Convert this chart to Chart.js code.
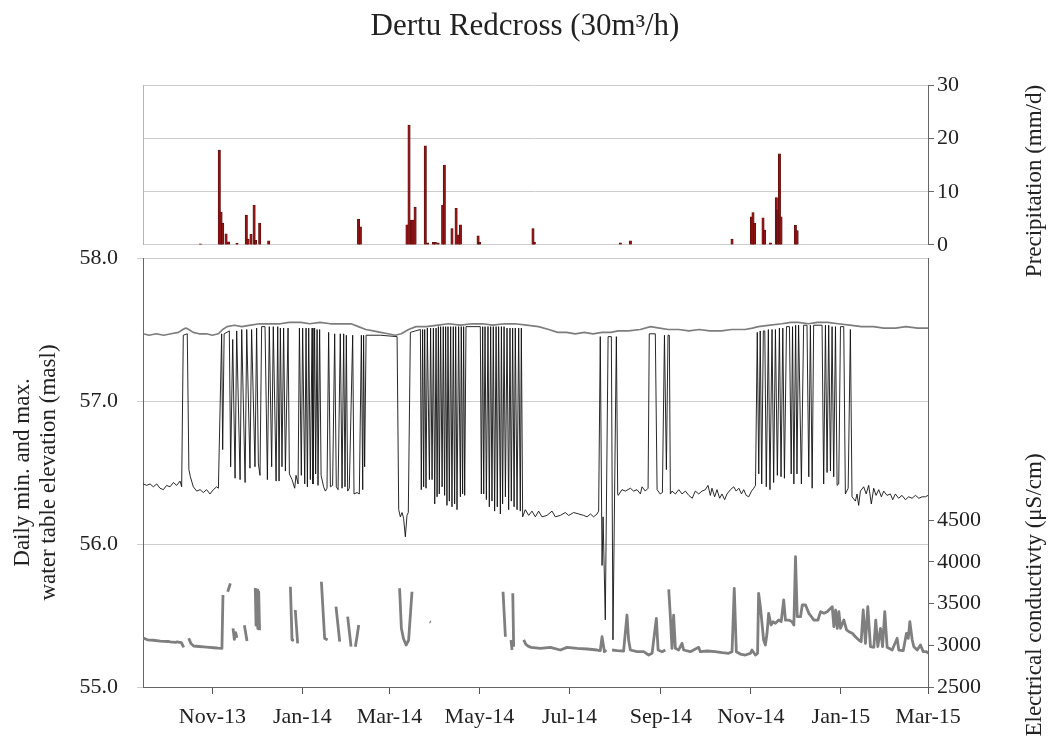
<!DOCTYPE html>
<html>
<head>
<meta charset="utf-8">
<script src="https://cdn.jsdelivr.net/npm/chart.js@4.4.0/dist/chart.umd.min.js"></script>
<style>
  html, body { margin: 0; padding: 0; background: #fff; }
  #wrap { position: relative; width: 1050px; height: 753px; }
  #wrap canvas { position: absolute; left: 0; top: 0; }
</style>
</head>
<body>
<div id="wrap">
  <canvas id="nivel" width="1050" height="753"></canvas>
  <canvas id="lluvia" width="1050" height="753"></canvas>
</div>
<script>
var SERIF = "'Liberation Serif', 'DejaVu Serif', serif";
var TEXTO = '#222';

// x = days since 1 Nov 2013
var tickDays = [0, 61, 120, 181, 242, 304, 365, 426, 485];
var tickLabels = ['Nov-13', 'Jan-14', 'Mar-14', 'May-14', 'Jul-14', 'Sep-14', 'Nov-14', 'Jan-15', 'Mar-15'];

var precipTicks = [0, 10, 20, 30];
var levelTicks = [55, 56, 57, 58];
var ecTicks = [2500, 3000, 3500, 4000, 4500];

// daily precipitation (mm/d)
var rainDays = [-8.1, 4.7, 5.9, 7.0, 9.3, 11.0, 16.7, 23.0, 24.2, 26.2, 28.3, 29.3, 32.1, 38.2,
    99.1, 100.3, 131.9, 133.3, 134.9, 136.0, 137.4, 144.3, 145.9, 149.8, 151.1, 153.0, 156.1, 157.2,
    162.4, 165.2, 166.9, 168.1, 180.1, 181.1, 217.3, 218.2, 276.5, 283.3, 352.2, 365.3, 366.4, 367.5,
    373.2, 374.3, 378.2, 382.2, 383.1, 384.3, 385.4, 395.1, 396.3];
var rainMm = [0.2, 17.8, 6.2, 4.1, 2.1, 0.6, 0.3, 5.6, 1.1, 2.0, 7.5, 0.9, 4.1, 0.8,
    4.8, 3.4, 3.8, 22.5, 4.7, 4.7, 7.1, 18.6, 0.4, 0.5, 0.5, 0.4, 7.5, 15.0,
    3.1, 6.9, 1.9, 3.8, 1.7, 0.5, 3.1, 0.5, 0.4, 0.8, 1.1, 5.3, 6.1, 4.1,
    5.1, 2.8, 0.4, 8.9, 6.6, 17.1, 5.3, 3.75, 2.7];

// daily maximum water table (masl)
var maxLevel = [[-46.8,57.47],[-43,57.46],[-38,57.47],[-33,57.46],[-28,57.47],[-23,57.48],[-20,57.50],[-18,57.51],
    [-16,57.50],[-13,57.48],[-9,57.47],[-4,57.47],[0,57.46],[4,57.47],[7,57.50],[10,57.52],[15,57.53],[20,57.52],
    [26,57.53],[32,57.54],[38,57.54],[46,57.54],[52,57.55],[60,57.55],[66,57.54],[73,57.55],[80,57.54],[87,57.54],
    [94,57.54],[99,57.52],[104,57.50],[109,57.49],[114,57.48],[119,57.47],[124,57.46],[128,57.47],[133,57.50],
    [138,57.52],[145,57.52],[153,57.53],[160,57.54],[168,57.53],[176,57.54],[183,57.54],[190,57.53],[198,57.54],
    [205,57.54],[213,57.53],[221,57.52],[228,57.50],[234,57.48],[240,57.48],[246,57.47],[252,57.48],[258,57.47],
    [264,57.48],[270,57.48],[275,57.49],[282,57.49],[290,57.50],[297,57.52],[303,57.51],[309,57.50],[316,57.50],
    [323,57.49],[330,57.50],[337,57.49],[345,57.49],[352,57.50],[361,57.50],[366,57.51],[370,57.52],[378,57.53],
    [386,57.54],[392,57.55],[397,57.55],[404,57.54],[410,57.55],[417,57.55],[424,57.54],[432,57.53],[440,57.52],
    [448,57.52],[455,57.51],[463,57.51],[470,57.52],[478,57.51],[485,57.51]];

// daily minimum water table (masl)
var minLevel = [[-46.8,56.42],[-44.5,56.41],[-42.2,56.42],[-40.0,56.40],[-37.7,56.42],[-35.5,56.39],[-33.2,56.38],
    [-31.0,56.41],[-28.7,56.40],[-26.4,56.43],[-24.2,56.41],[-21.9,56.44],[-20.8,56.40],
    [-19.7,57.46],[-17.0,57.47],[-15.9,56.52],[-14.9,56.47],[-12.9,56.40],[-10.6,56.37],[-8.3,56.38],[-6.1,56.36],
    [-3.9,56.38],[-1.6,56.35],[0.7,56.38],[2.9,56.40],[4.1,56.39],
    [6.3,57.47],[7.0,56.66],[8.0,57.47],[11.5,57.49],[12.4,56.54],[13.8,57.43],[15.4,56.46],[16.5,57.49],[18.8,56.45],
    [19.9,57.50],[22.2,56.43],[23.3,57.50],[25.5,56.53],[26.6,57.50],[28.9,56.54],[30.0,57.51],[31.2,56.56],[32.3,56.48],
    [33.4,57.52],[35.7,57.52],[37.3,56.45],[38.6,57.52],[40.2,56.54],[41.3,57.52],[43.2,56.44],[44.3,57.52],
    [45.2,56.44],[46.1,57.51],[47.2,56.54],[48.3,57.51],[49.5,56.51],[51.3,57.51],[52.2,56.49],[54.0,56.45],[55.8,56.39],
    [56.7,56.48],[58.1,56.42],[59.0,57.51],[60.3,56.48],[61.2,57.51],[62.6,56.42],[63.5,57.51],[64.4,56.40],[65.3,57.51],
    [66.4,56.45],[67.6,57.51],[68.2,56.42],[69.3,57.51],[70.0,56.49],[71.0,57.50],[71.6,56.41],[72.7,57.50],[73.7,56.48],
    [75.4,56.40],[76.6,56.37],[77.7,56.39],[78.8,57.48],[80.0,56.40],[81.5,56.41],[82.9,57.47],[84.0,56.40],[85.2,56.38],
    [86.7,57.47],[87.9,56.39],[89.0,57.47],[89.9,56.40],[90.8,57.46],[91.7,56.37],[92.8,56.39],[95.1,57.46],[96.0,56.35],
    [98.1,56.36],[99.6,56.35],[101.0,57.46],[101.9,56.38],[102.5,57.46],[103.2,56.54],[104.2,57.46],[113.9,57.46],
    [125.2,57.45],[126.3,56.24],[127.4,56.19],[128.6,56.22],[129.6,56.18],[130.8,56.05],[131.9,56.20],[132.8,56.22],
    [134.2,57.48],[137.6,57.49],[141.0,57.50],[141.6,56.38],[142.5,57.50],[143.2,56.40],[143.9,57.50],[144.8,56.39],
    [145.7,57.51],[147.1,56.45],[147.9,57.51],[148.9,56.45],[149.8,57.51],[150.7,56.28],[151.6,57.51],[152.3,56.33],
    [153.2,57.52],[153.8,56.35],[154.7,57.52],[155.7,56.40],[156.5,57.52],[157.4,56.34],[158.1,57.52],[159.0,56.27],
    [159.7,57.52],[160.6,56.30],[161.5,57.52],[162.4,56.26],[163.3,57.52],[164.2,56.28],[164.9,57.52],[165.8,56.24],
    [166.9,57.52],[168.1,56.33],[168.7,57.52],[169.6,56.35],[170.3,57.52],[171.0,56.34],[171.9,57.52],[181.6,57.52],
    [182.3,56.35],[183.2,57.52],[183.9,56.35],[184.8,57.52],[185.7,56.31],[186.8,57.52],[187.7,56.26],[188.6,57.52],
    [189.5,56.30],[190.4,57.52],[191.3,56.23],[192.3,57.52],[193.1,56.26],[194.0,57.52],[195.2,56.21],[195.9,57.52],
    [196.7,56.28],[197.7,57.52],[198.6,56.33],[199.7,57.51],[200.8,56.24],[201.7,57.51],[202.6,56.30],[203.5,57.51],
    [204.5,56.26],[205.3,57.51],[206.5,56.24],[207.6,57.51],[208.7,56.23],[209.4,57.51],[210.3,56.19],
    [212.1,56.24],[214.4,56.20],[216.6,56.23],[218.9,56.19],[221.1,56.23],[223.4,56.19],[226.8,56.20],[230.2,56.23],
    [232.4,56.19],[235.8,56.20],[239.2,56.22],[241.5,56.20],[244.9,56.22],[248.3,56.21],[251.6,56.20],[254.0,56.19],
    [256.2,56.21],[258.4,56.19],[260.7,56.21],[261.8,56.23],
    [262.9,57.45],[264.1,55.85],[264.8,56.19],[266.3,55.47],[268.2,57.45],[270.4,57.45],[271.5,55.33],[273.8,57.45],
    [274.7,56.35],[275.1,56.34],[277.6,56.38],[279.9,56.37],[283.3,56.39],[285.5,56.37],[287.8,56.38],[290.1,56.35],
    [291.2,56.40],[293.4,56.37],[295.3,56.39],[296.1,57.47],[300.2,57.47],[301.4,56.38],[303.5,56.35],[305.0,56.36],
    [306.4,57.46],[307.7,56.52],[308.8,57.46],[309.7,57.46],[310.4,56.35],
    [311.5,56.37],[313.8,56.35],[316.1,56.38],[318.3,56.35],[320.6,56.37],[322.9,56.34],[325.2,56.32],[327.3,56.37],
    [329.6,56.35],[331.9,56.37],[334.1,56.38],[335.9,56.41],[337.5,56.34],[338.6,56.39],[340.4,56.33],[342.0,56.38],
    [343.8,56.32],[345.4,56.35],[347.2,56.31],[348.8,56.35],[351.1,56.38],[353.3,56.40],[355.0,56.37],[356.8,56.39],
    [358.6,56.35],[360.1,56.38],[361.8,56.34],[363.5,56.33],[365.4,56.37],[366.9,56.39],[368.1,56.41],
    [369.3,57.48],[370.3,56.49],[371.3,57.49],[372.3,56.42],[373.4,57.49],[374.4,57.49],[375.4,56.40],[376.8,57.50],
    [377.9,56.38],[379.3,57.50],[380.4,56.43],[381.6,57.50],[382.9,56.48],[384.3,57.51],[385.4,56.47],[386.6,57.51],
    [387.7,56.46],[389.1,57.52],[391.1,57.52],[392.3,56.49],[393.2,57.52],[394.1,56.42],[395.3,57.53],[396.2,56.49],
    [397.3,57.53],[399.2,56.42],[400.7,57.53],[403.0,57.53],[404.2,56.47],[405.3,57.53],[406.5,56.39],[407.5,57.53],
    [413.2,57.53],[414.3,56.42],[415.5,57.53],[416.6,56.50],[417.7,57.53],[418.9,56.51],[420.0,57.52],[421.1,56.47],
    [422.3,57.52],[423.4,56.41],[424.5,56.42],[425.7,57.52],[427.9,57.52],[429.0,56.35],[430.9,56.39],[432.4,57.50],
    [433.5,56.33],[435.8,56.30],[436.9,56.35],[438.0,56.27],[439.2,56.37],[441.4,56.40],[443.1,56.35],[444.8,56.41],
    [446.6,56.28],[448.2,56.39],[449.8,56.34],[451.6,56.38],[453.4,56.33],[455.0,56.37],[457.2,56.34],[459.5,56.35],
    [461.1,56.31],[462.9,56.35],[465.1,56.32],[467.4,56.34],[469.7,56.31],[471.9,56.33],[474.2,56.32],[476.5,56.34],
    [478.8,56.32],[481.0,56.33],[483.3,56.33],[485.0,56.34]];

// electrical conductivity (uS/cm), null = no record
var ecValues = [[-46.8,3085],[-44,3065],[-40,3060],[-35.2,3050],[-30,3045],[-28.5,3040],[-25,3035],[-23.9,3040],
    [-21,3030],[-19.4,2975],[-18,null],
    [-16,3083],[-14.5,3020],[-12.7,2991],[-9,2985],[-5.9,2980],[-2,2975],[0.9,2970],[4,2965],[6.5,2962],[7.2,3602],[8.5,null],
    [10.4,3641],[12.2,3742],[13,null],
    [14.0,3203],[14.9,3070],[15.8,3150],[16.7,3090],[18,null],
    [21.7,3240],[23.5,3050],[26,null],
    [29.1,3686],[29.6,3240],[30.3,3660],[30.8,3200],[31.4,3640],[32.0,3180],[40,null],
    [52.9,3701],[54.0,3063],[54.5,3060],[55.3,null],
    [56.2,3422],[57.8,3023],[65,null],
    [73.9,3761],[76.1,3083],[78.1,3063],[80,null],
    [83.8,3462],[86.3,3043],[89,null],
    [91.7,3342],[94.0,2983],[95.5,null],
    [96.9,2983],[98,3100],[99.2,3243],[110,null],
    [126.9,3682],[128.1,3203],[129.5,3080],[131.3,3003],[133,3060],[135.3,3641],[140,null],
    [147.3,3282],[148.0,3275],[170,null],
    [197.0,3641],[198.6,3102],[200,null],
    [202.4,3063],[203.1,2943],[203.4,null],
    [203.6,3622],[204.2,2983],[207,null],
    [211.0,3063],[212.5,3010],[214,2990],[216,2975],[222.3,2963],[229.1,2975],[235.8,2943],[240.4,2975],[247.2,2963],
    [254.0,2955],[260.7,2943],[262.9,2935],[264.1,3102],[265.7,2923],[267.0,2943],[269,null],
    [270.9,2943],[274.3,2935],[278.7,2931],[281.0,3362],[282.1,3063],[283.3,2943],[287.8,2923],[292.3,2923],[295.7,2883],
    [298.0,2903],[300.9,3322],[302.1,2943],[304.8,2923],[307.0,2943],[308,null],
    [309.3,3670],[310.4,3342],[311.5,2963],[312.6,3362],[313.8,2963],[316.0,2943],[318.3,3023],[319.4,2943],[323.9,2923],
    [329.6,2975],[330.7,2923],[335.3,2931],[340.9,2923],[345.4,2911],[349.9,2903],[352.2,2923],[353.7,3682],[355.1,2923],
    [357.8,2895],[361.2,2883],[364.6,2903],[365.7,2943],[368.0,2883],[369.5,2903],
    [370.2,3622],[371.4,3462],[372.5,3263],[373.6,3063],[374.8,3003],[375.9,3143],[377.0,3382],[378.6,3243],[380.0,3282],
    [381.6,3263],[383.8,3302],[385.5,3282],[387.2,3542],[388.4,3302],[390.6,3302],[392.9,3282],[394.1,3243],[395.2,4060],
    [396.4,3342],[398.6,3342],[399.8,3482],[402.0,3482],[404.3,3382],[407.7,3302],[410.4,3302],[412.2,3402],[414.5,3382],
    [416.7,3402],[417.8,3422],[420.1,3462],[421.2,3223],[422.4,3422],[423.5,3203],[424.6,3402],[425.7,3203],[428.0,3302],
    [429.8,3183],[431.4,3163],[433.7,3143],[435.8,3102],[438.1,3063],[439.7,3043],[441.1,3422],[442.6,3023],[444.2,3462],
    [446.0,2983],[448.3,2975],[449.6,3302],[451.0,2983],[452.8,3203],[454.2,2983],[455.7,3402],[457.3,2975],[460.7,2943],
    [464.1,3083],[465.2,2943],[468.2,2935],[470.4,3143],[471.6,3083],[472.7,3282],[474.3,3063],[475.4,2983],[477.7,2943],
    [479.9,3003],[481.8,2923],[484.0,2923],[485.2,2903]];

function aPuntos(lista) {
    return lista.map(function (p) { return { x: p[0], y: p[1] }; });
}

function fijarTicks(valores) {
    return function (scale) {
        scale.ticks = valores.map(function (v) { return { value: v }; });
    };
}

function sinSeparador(v) {
    return String(v);
}

// titles of the right-hand axes read bottom to top
var titulosVerticales = {
    id: 'titulosVerticales',
    afterDraw: function (chart, args, opts) {
        var ctx = chart.ctx;
        (opts.items || []).forEach(function (t) {
            ctx.save();
            ctx.translate(t.x, t.y);
            ctx.rotate(-Math.PI / 2);
            ctx.font = opts.font;
            ctx.fillStyle = opts.color;
            ctx.textAlign = 'center';
            ctx.textBaseline = 'middle';
            ctx.fillText(t.text, 0, 0);
            ctx.restore();
        });
    }
};

var fuenteTicks = { family: SERIF, size: 22 };

// upper panel: precipitation
new Chart(document.getElementById('lluvia'), {
    type: 'bar',
    data: {
        datasets: [{
            label: 'Precipitation',
            data: rainDays.map(function (d, i) { return { x: d, y: rainMm[i] }; }),
            xAxisID: 'x',
            yAxisID: 'y',
            backgroundColor: '#8e1515',
            borderColor: '#4d0808',
            borderWidth: 0.6,
            barThickness: 2.4
        }]
    },
    options: {
        responsive: false,
        animation: false,
        layout: { padding: { left: 0, right: 0, top: 0, bottom: 508 } },
        plugins: {
            legend: { display: false },
            tooltip: { enabled: false },
            title: {
                display: true,
                text: 'Dertu Redcross (30m³/h)',
                color: TEXTO,
                font: { family: SERIF, size: 31, weight: 'normal' },
                padding: { top: 8, bottom: 40 }
            },
            titulosVerticales: {
                font: '23px ' + SERIF,
                color: TEXTO,
                items: [{ text: 'Precipitation (mm/d)', x: 1035, y: 181 }]
            }
        },
        scales: {
            x: { type: 'linear', min: -47, max: 485, offset: false, display: false },
            y: {
                position: 'right',
                min: 0,
                max: 30,
                afterBuildTicks: fijarTicks(precipTicks),
                ticks: { font: fuenteTicks, color: TEXTO, padding: 3, callback: sinSeparador },
                grid: { color: '#cdcdcd', tickLength: 6, tickColor: '#666' },
                border: { color: '#666' },
                afterFit: function (s) { s.width = 122; }
            },
            marco: {
                axis: 'y',
                position: 'left',
                ticks: { display: false },
                grid: { drawOnChartArea: false, drawTicks: false },
                border: { color: '#b5b5b5' },
                afterFit: function (s) { s.width = 143; }
            }
        }
    },
    plugins: [titulosVerticales]
});

// lower panel: water table and conductivity
new Chart(document.getElementById('nivel'), {
    type: 'line',
    data: {
        datasets: [
            { label: 'Daily min. water table', data: aPuntos(minLevel), yAxisID: 'y', borderColor: '#111', borderWidth: 0.9 },
            { label: 'Daily max. water table', data: aPuntos(maxLevel), yAxisID: 'y', borderColor: '#7d7d7d', borderWidth: 1.7 },
            { label: 'Electrical conductivity', data: aPuntos(ecValues), yAxisID: 'ec', borderColor: '#7f7f7f', borderWidth: 2.8 }
        ]
    },
    options: {
        responsive: false,
        animation: false,
        spanGaps: false,
        elements: {
            point: { radius: 0 },
            line: { tension: 0, borderJoinStyle: 'round' }
        },
        layout: { padding: { left: 0, right: 0, top: 258, bottom: 0 } },
        plugins: {
            legend: { display: false },
            tooltip: { enabled: false },
            titulosVerticales: {
                font: '23px ' + SERIF,
                color: TEXTO,
                items: [{ text: 'Electrical conductivty (μS/cm)', x: 1035, y: 595 }]
            }
        },
        scales: {
            x: {
                type: 'linear',
                min: -47,
                max: 485,
                afterBuildTicks: fijarTicks(tickDays),
                ticks: {
                    autoSkip: false,
                    maxRotation: 0,
                    font: fuenteTicks,
                    color: TEXTO,
                    padding: 10,
                    callback: function (v) { return tickLabels[tickDays.indexOf(v)]; }
                },
                grid: { drawOnChartArea: false, tickLength: 7, tickColor: '#555' },
                border: { color: '#666' },
                afterFit: function (s) { s.height = 66; }
            },
            y: {
                position: 'left',
                min: 55,
                max: 58,
                afterBuildTicks: fijarTicks(levelTicks),
                ticks: {
                    font: fuenteTicks,
                    color: TEXTO,
                    padding: 19,
                    callback: function (v) { return v.toFixed(1); }
                },
                grid: { color: '#cdcdcd', tickLength: 6 },
                border: { color: '#666' },
                title: {
                    display: true,
                    text: ['Daily min. and max.', 'water table elevation (masl)'],
                    color: TEXTO,
                    font: { family: SERIF, size: 23, lineHeight: 1.13 },
                    padding: { top: 10, bottom: 0 }
                },
                afterFit: function (s) { s.width = 143; }
            },
            ec: {
                axis: 'y',
                position: 'right',
                min: 2500,
                max: 7638,
                afterBuildTicks: fijarTicks(ecTicks),
                ticks: { font: fuenteTicks, color: TEXTO, padding: 3, callback: sinSeparador },
                grid: { drawOnChartArea: false, tickLength: 6, tickColor: '#666' },
                border: { color: '#666' },
                afterFit: function (s) { s.width = 122; }
            }
        }
    },
    plugins: [titulosVerticales]
});
</script>
</body>
</html>
